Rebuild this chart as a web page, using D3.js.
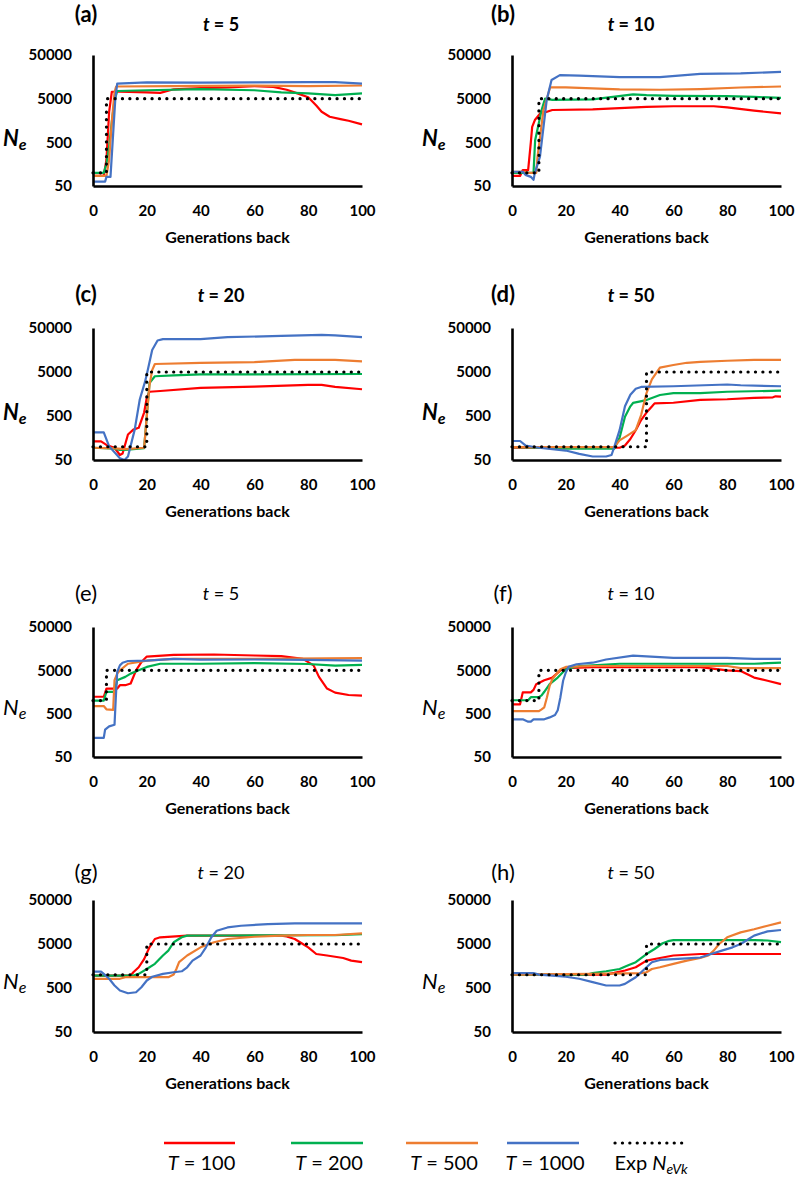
<!DOCTYPE html>
<html><head><meta charset="utf-8">
<script src="https://cdn.jsdelivr.net/npm/d3@7"></script>
<style>body{margin:0;background:#fff} svg{display:block}</style>
</head><body><svg id="c" width="797" height="1177"></svg>
<script>
// ---------- DATA (generations back, Ne) ----------
const panelLabels = ['(a)','(b)','(c)','(d)','(e)','(f)','(g)','(h)'];
const panelT = [5,10,20,50,5,10,20,50];
const expLow = [100,100,100,100,1000,1000,1000,1000];
const expHigh = 5000;
const xTicks = [0,20,40,60,80,100];
const yTicks = [50,500,5000,50000];
const seriesNames = ['T = 100','T = 200','T = 500','T = 1000'];
const seriesColors = ['#ff0000','#00b050','#ed7d31','#4472c4'];

const a_T100 = [[0,85],[4,85],[5,200],[6,2500],[7,7200],[10,7200],[20,7000],[25,6800],[30,8200],[40,8700],[50,9000],[60,9700],[67,9300],[72,8000],[76,6600],[80,5400],[83,3500],[85,2500],[88,1930],[92,1700],[95,1560],[100,1290]];
const a_T200 = [[0,100],[4,100],[5,160],[6,400],[7,1500],[8,4500],[9,7500],[20,7800],[40,8300],[60,7800],[70,7000],[80,6600],[90,6000],[100,6600]];
const a_T500 = [[0,85],[5,85],[6,200],[7,1500],[8,7000],[8.6,9500],[30,9700],[60,9900],[80,9700],[100,10000]];
const a_T1000 = [[0,63],[4.5,63],[5,81],[6.5,81],[7.5,800],[8.3,5000],[9,11000],[20,11800],[40,11700],[60,11800],[80,11900],[90,12000],[100,11000]];

const b_T100 = [[0,85],[3,85],[4,116],[6,116],[7,500],[7.5,1130],[8.5,1620],[11,2500],[13,2500],[15,2750],[30,2850],[50,3260],[60,3350],[75,3350],[80,3150],[90,2650],[100,2300]];
const b_T200 = [[0,100],[8,100],[8.6,560],[10,1400],[11,2750],[12.3,5000],[15,4700],[30,4800],[45,6300],[50,6000],[60,5800],[80,5700],[90,5500],[100,5200]];
const b_T500 = [[0,106],[5,106],[6,100],[9,100],[9.5,235],[11.7,2750],[14.2,9100],[20,9100],[40,8150],[55,8000],[70,8300],[85,9000],[100,9500]];
const b_T1000 = [[0,106],[4,106],[5,90],[7,81],[8,69],[8.5,100],[10.4,235],[12.9,4650],[14.7,13400],[17.8,17300],[25,16900],[40,15600],[55,15600],[70,18500],[85,19000],[100,20500]];

const c_T100 = [[0,132],[3,132],[5,110],[8,95],[10,65],[11,70],[13,190],[15,245],[17,270],[19,600],[20,1300],[21,1780],[25,1850],[40,2180],[60,2330],[80,2550],[85,2550],[90,2300],[100,2030]];
const c_T200 = [[0,95],[8,90],[10,85],[12,85],[19,93],[20,500],[21,2800],[23,4000],[30,4200],[40,4400],[100,4500]];
const c_T500 = [[0,95],[8,92],[12,88],[19,95],[20,500],[21,2500],[22,5500],[23,7600],[40,8100],[60,8400],[75,9400],[90,9400],[100,8700]];
const c_T1000 = [[0,213],[4,213],[6,102],[10,55],[11.7,50],[13,60],[15.5,245],[17.4,1200],[19.3,2940],[20.2,5000],[22,15800],[24,26000],[26,27900],[40,27900],[50,31000],[70,33000],[85,35000],[90,34000],[100,31000]];

const d_T100 = [[0,95],[40,95],[42,107],[44,150],[46,238],[48,405],[50,600],[52,820],[53,970],[60,1000],[70,1160],[80,1200],[90,1290],[97,1330],[98,1400],[100,1380]];
const d_T200 = [[0,98],[10,95],[20,90],[38,90],[40,160],[42,480],[44,830],[45,990],[50,1150],[55,1500],[60,1650],[70,1650],[80,1780],[100,1880]];
const d_T500 = [[0,98],[38,98],[40,140],[43,182],[46,238],[48,525],[50,1660],[52,3400],[55,6300],[60,7200],[65,8100],[70,8500],[80,9000],[90,9400],[100,9400]];
const d_T1000 = [[0,135],[3,135],[5,107],[10,95],[20,82],[25,69],[30,60],[35,60],[37,65],[38,98],[40,238],[42,830],[44,1520],[46,2080],[48,2290],[60,2370],[80,2600],[85,2500],[100,2370]];

const e_T100 = [[0,1230],[4,1230],[5,1900],[9,1900],[10,2270],[12,2270],[14,2480],[16,5000],[18,7750],[20,10400],[30,11400],[45,11600],[60,11000],[70,10600],[78,9200],[82,6500],[84,3530],[87,1900],[90,1530],[95,1350],[100,1300]];
const e_T200 = [[0,1000],[4,1000],[5,1600],[8,1600],[9,2960],[12,3530],[14,4200],[17,5000],[20,6000],[25,7100],[40,7100],[60,7300],[80,7000],[90,6400],[100,6700]];
const e_T500 = [[0,750],[4,750],[5,630],[7.5,610],[8,2960],[9,4200],[10,5000],[13,7100],[20,8400],[30,9200],[60,9200],[100,9600]];
const e_T1000 = [[0,138],[4,138],[4.5,214],[6,255],[8,278],[8.5,1230],[9,4580],[10,6500],[11,7500],[13,8200],[20,8400],[30,9200],[40,8800],[60,8900],[80,8700],[100,8400]];

const f_T100 = [[0,820],[3,820],[4,1550],[7,1550],[8,1770],[9,2400],[12,2960],[15,3400],[18,5000],[20,5600],[30,5950],[70,5950],[80,5000],[85,4800],[90,3400],[95,2870],[100,2400]];
const f_T200 = [[0,1020],[6,1020],[7,1200],[10,1200],[11,1320],[12,1600],[14,2400],[17,3400],[20,5300],[25,6300],[40,7100],[90,7100],[100,7500]];
const f_T500 = [[0,570],[10,570],[11,630],[12,700],[13,1200],[14,2200],[15,3150],[18,5300],[20,6000],[30,6300],[80,6300],[85,5600],[100,5600]];
const f_T1000 = [[0,370],[4,370],[6,327],[7,327],[8,370],[12,370],[14,410],[16,465],[17,600],[18,1200],[19,2870],[20,4450],[21,6000],[24,6900],[30,7500],[35,8900],[45,10900],[50,10500],[60,9700],[80,9700],[90,9200],[100,9200]];

const g_T100 = [[0,960],[14,960],[15,1140],[17,1480],[19,2270],[21,4200],[23,6500],[25,7100],[35,7750],[70,7750],[72,7400],[75,6500],[78,5000],[80,4200],[83,2960],[87,2740],[93,2400],[96,2100],[100,1930]];
const g_T200 = [[0,960],[15,960],[17,1050],[20,1350],[23,1770],[26,2740],[28,3530],[30,5480],[33,7100],[35,7750],[50,7800],[90,7900],[100,8400]];
const g_T500 = [[0,810],[10,810],[12,880],[28,880],[30,1010],[31,1350],[32,1930],[35,2740],[40,4200],[45,5480],[50,6500],[60,7300],[70,7750],[80,8000],[90,8000],[100,8700]];
const g_T1000 = [[0,1180],[3,1180],[4,1050],[6,810],[8,570],[10,440],[13,380],[16,400],[18,520],[20,740],[22,900],[26,1050],[30,1140],[33,1200],[35,1480],[37,2100],[40,2740],[42,4200],[44,7100],[46,10000],[50,11900],[55,13000],[65,14200],[75,14700],[100,14700]];

const h_T100 = [[0,1010],[35,1010],[38,1100],[42,1250],[46,1480],[50,2100],[55,2400],[60,2740],[65,2850],[70,2960],[100,2960]];
const h_T200 = [[0,1010],[28,1010],[30,1090],[35,1200],[40,1350],[43,1620],[46,1930],[50,2960],[53,3850],[56,5200],[58,5800],[60,6100],[90,6100],[95,6000],[100,5500]];
const h_T500 = [[0,1010],[30,1050],[48,1090],[50,1140],[52,1350],[55,1480],[60,1770],[65,2100],[70,2400],[73,2740],[75,3530],[77,5000],[80,7100],[85,9200],[90,10800],[95,13000],[100,15500]];
const h_T1000 = [[0,1090],[8,1090],[10,1010],[15,960],[20,900],[25,810],[30,680],[35,570],[40,570],[42,620],[44,740],[46,880],[48,1140],[50,1480],[52,1930],[55,2170],[60,2270],[65,2350],[70,2470],[74,2960],[78,3530],[82,4200],[85,5000],[88,6500],[90,7750],[95,9700],[100,10400]];

const panelSeries = [
  [a_T100,a_T200,a_T500,a_T1000],[b_T100,b_T200,b_T500,b_T1000],
  [c_T100,c_T200,c_T500,c_T1000],[d_T100,d_T200,d_T500,d_T1000],
  [e_T100,e_T200,e_T500,e_T1000],[f_T100,f_T200,f_T500,f_T1000],
  [g_T100,g_T200,g_T500,g_T1000],[h_T100,h_T200,h_T500,h_T1000]
];

// ---------- LAYOUT ----------
const FONT = 'Lato, "Open Sans", sans-serif';
const cols = [{x0:93,x1:362,lab:86,tit:221},{x0:512,x1:781,lab:503,tit:631}];
const rows = [
  {top:55,bot:186,lab:22,tit:31,bold:true},
  {top:328,bot:460,lab:302,tit:302,bold:true},
  {top:627,bot:757,lab:601,tit:600,bold:false},
  {top:900,bot:1032,lab:880,tit:879,bold:false}
];
const svg = d3.select('#c');

panelSeries.forEach((series,i)=>{
  const c = cols[i%2], r = rows[Math.floor(i/2)];
  const x = d3.scaleLinear().domain([0,100]).range([c.x0,c.x1]);
  const y = d3.scaleLog().domain([50,50000]).range([r.bot,r.top]).clamp(true);
  const g = svg.append('g');
  const line = d3.line().x(d=>x(d[0])).y(d=>y(d[1]));

  series.forEach((s,k)=>{
    g.append('path').attr('d',line(s)).attr('fill','none')
     .attr('stroke',seriesColors[k]).attr('stroke-width',2.2).attr('stroke-linejoin','round');
  });
  const t = panelT[i];
  const expData = [[0,expLow[i]],[t,expLow[i]],[t,expHigh],[100,expHigh]];
  g.append('path').attr('d',line(expData)).attr('fill','none')
   .attr('stroke','#000').attr('stroke-width',3.2).attr('stroke-linecap','round')
   .attr('stroke-dasharray','0.1 7.3');

  const ya = g.append('g').attr('transform',`translate(${c.x0},0)`)
    .call(d3.axisLeft(y).tickValues(yTicks).tickFormat(d3.format('d')).tickSize(0).tickPadding(21));
  const xa = g.append('g').attr('transform',`translate(0,${r.bot})`)
    .call(d3.axisBottom(x).tickValues(xTicks).tickSize(0).tickPadding(19));
  [ya,xa].forEach(a=>{
    a.select('.domain').attr('stroke','#000').attr('stroke-width',2.6);
    a.selectAll('text').attr('font-family',FONT).attr('font-size',15).attr('font-weight','bold').attr('fill','#000');
  });

  g.append('text').attr('x',(c.x0+c.x1)/2).attr('y',r.bot+57).attr('text-anchor','middle')
   .attr('font-family',FONT).attr('font-size',16).attr('font-weight','bold').text('Generations back');

  const ne = g.append('text').attr('x',c.x0-90).attr('y',y(500)+(r.bold?4:1))
   .attr('font-family',FONT).attr('font-size',22).attr('font-style','italic')
   .attr('font-weight',r.bold?'bold':'normal');
  ne.append('tspan').text('N');
  ne.append('tspan').attr('font-size',16).attr('dy',4).text('e');

  g.append('text').attr('x',c.lab).attr('y',r.lab).attr('text-anchor','middle')
   .attr('font-family',FONT).attr('font-size',22).attr('font-weight',r.bold?'bold':'normal').text(panelLabels[i]);
  const tt = g.append('text').attr('x',c.tit).attr('y',r.tit).attr('text-anchor','middle')
   .attr('font-family',FONT).attr('font-size',18).attr('font-weight',r.bold?'bold':'normal');
  tt.append('tspan').attr('font-style','italic').text('t');
  tt.append('tspan').text(' = '+t);
});

// ---------- LEGEND ----------
const legX = [[164,235],[291,363],[406,478],[507,579],[615,687]];
const lg = svg.append('g');
seriesNames.forEach((n,k)=>{
  const [a,b] = legX[k];
  lg.append('line').attr('x1',a).attr('x2',b).attr('y1',1143).attr('y2',1143)
    .attr('stroke',seriesColors[k]).attr('stroke-width',2.6);
  const tx = lg.append('text').attr('x',(a+b)/2+2).attr('y',1170).attr('text-anchor','middle')
    .attr('font-family',FONT).attr('font-size',20);
  tx.append('tspan').attr('font-style','italic').text(n.split(' ')[0]);
  tx.append('tspan').text(n.slice(1));
});
{
  const [a,b] = legX[4];
  lg.append('line').attr('x1',a).attr('x2',b).attr('y1',1143).attr('y2',1143)
    .attr('stroke','#000').attr('stroke-width',3.2).attr('stroke-linecap','round').attr('stroke-dasharray','0.1 7.3');
  const tx = lg.append('text').attr('x',(a+b)/2).attr('y',1170).attr('text-anchor','middle')
    .attr('font-family',FONT).attr('font-size',20);
  tx.append('tspan').text('Exp ');
  tx.append('tspan').attr('font-style','italic').text('N');
  tx.append('tspan').attr('font-style','italic').attr('font-size',14).attr('dy',4).text('eVk');
}
</script>
</body></html>
